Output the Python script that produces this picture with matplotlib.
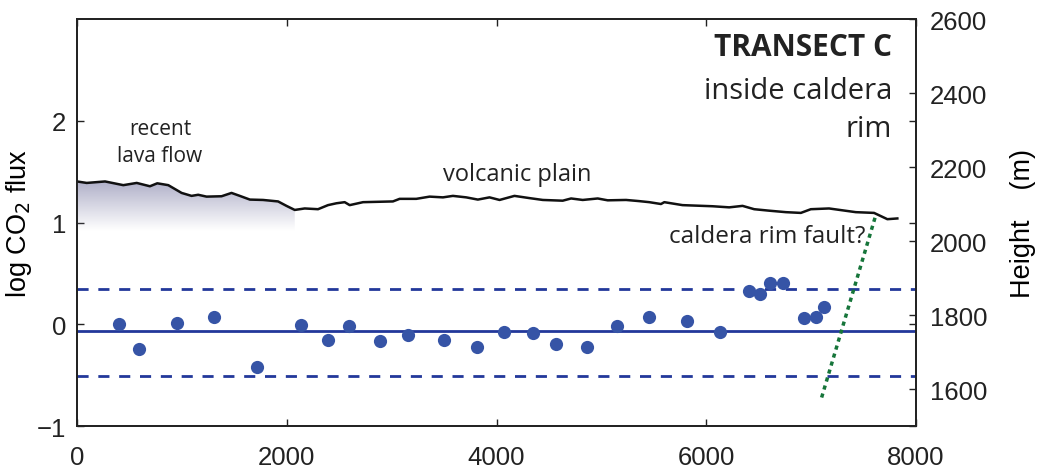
import numpy as np
import matplotlib
matplotlib.use("Agg")
import matplotlib.pyplot as plt
from matplotlib.patches import Polygon

plt.rcParams['font.family'] = ['Liberation Sans', 'DejaVu Sans']

# CO2 flux measurements (distance m, log CO2 flux)
dist = [400, 590, 950, 1305, 1715, 2135, 2390, 2590, 2885, 3160, 3495, 3810,
        4075, 4345, 4570, 4865, 5145, 5450, 5820, 6135, 6410, 6515, 6610,
        6735, 6935, 7050, 7125]
flux = [0.00, -0.24, 0.01, 0.07, -0.42, -0.01, -0.15, -0.02, -0.16, -0.11,
        -0.15, -0.22, -0.08, -0.09, -0.19, -0.22, -0.02, 0.07, 0.03, -0.08,
        0.33, 0.30, 0.41, 0.41, 0.06, 0.07, 0.17]

mean_flux = -0.07
upper_flux = 0.35
lower_flux = -0.51

# elevation profile (distance m, height m)
prof_d = [0, 92, 267, 441, 569, 695, 765, 870, 997, 1092, 1155, 1235, 1378,
          1473, 1552, 1648, 1774, 1917, 1997, 2076, 2171, 2298, 2393, 2473,
          2552, 2600, 2727, 3012, 3076, 3235, 3362, 3489, 3584, 3711, 3822,
          3933, 4029, 4171, 4314, 4441, 4631, 4711, 4822, 4965, 5060, 5235,
          5355, 5457, 5568, 5600, 5774, 6060, 6219, 6346, 6457, 6600, 6759,
          6902, 6997, 7171, 7426, 7600, 7727, 7822]
prof_h = [2161, 2157, 2161, 2151, 2157, 2148, 2156, 2151, 2130, 2122, 2125,
          2120, 2121, 2130, 2122, 2112, 2111, 2107, 2095, 2084, 2088, 2086,
          2097, 2102, 2105, 2097, 2105, 2107, 2114, 2114, 2120, 2118, 2122,
          2118, 2112, 2118, 2111, 2122, 2116, 2111, 2109, 2115, 2111, 2115,
          2110, 2111, 2108, 2105, 2100, 2105, 2097, 2094, 2091, 2095, 2086,
          2082, 2078, 2076, 2086, 2088, 2078, 2076, 2059, 2061]

# fault line ends
fault_d = [7100, 7610]
fault_y = [-0.72, 1.05]

dot_c = '#3654a6'
line_c = '#22389a'

fig = plt.figure(figsize=(10.44, 4.77), dpi=100)
ax = fig.add_axes([0.0738, 0.1048, 0.8036, 0.8532])
ax2 = ax.twinx()

ax.plot(dist, flux, 'o', color=dot_c, ms=9.5, mec='none', zorder=3)
ax.axhline(mean_flux, color=line_c, lw=2)
ax.axhline(upper_flux, color=line_c, lw=2, ls=(0, (4, 3.5)))
ax.axhline(lower_flux, color=line_c, lw=2, ls=(0, (4, 3.5)))
ax.plot(fault_d, fault_y, color='#16753a', lw=2.5, ls=(0, (1.2, 1.2)))

ax.set_xlim(0, 8000)
ax.set_ylim(-1, 3)
ax.set_xticks([0, 2000, 4000, 6000, 8000])
ax.set_yticks([-1, 0, 1, 2])
ax.set_yticklabels(['\u22121', '0', '1', '2'])
ax.tick_params(direction='in', top=True, right=True, length=5, width=1,
               labelsize=18.5, colors='#222222')
ax.tick_params(axis='x', pad=14)
ax.tick_params(axis='y', pad=8)
ax.set_ylabel('log CO$_2$ flux', fontsize=19.5, labelpad=2)

# elevation on the right axis
ax2.plot(prof_d, prof_h, color='#111111', lw=1.8)
ax2.set_ylim(1500, 2600)
ax2.set_yticks([1600, 1800, 2000, 2200, 2400, 2600])
ax2.tick_params(direction='in', length=5, width=1, labelsize=18.5, pad=10,
                colors='#222222')
ax2.set_ylabel('Height    (m)', fontsize=19.5, labelpad=16)

# shaded gradient below the recent lava flow
shade_end = 2076
grad = np.zeros((100, 2, 4))
grad[..., 0] = 0.62
grad[..., 1] = 0.62
grad[..., 2] = 0.74
grad[..., 3] = np.linspace(0.85, 0.0, 100)[:, None]
img = ax2.imshow(grad, extent=[0, shade_end, 2027, 2165], origin='upper',
                 aspect='auto', zorder=1, interpolation='bilinear')
pd = [d for d in prof_d if d <= shade_end]
ph = prof_h[:len(pd)]
poly = Polygon(list(zip(pd, ph)) + [(pd[-1], 2027), (0, 2027)],
               closed=True, transform=ax2.transData)
img.set_clip_path(poly)
ax2.set_xlim(0, 8000)
ax2.set_ylim(1500, 2600)

for a in (ax, ax2):
    for s in a.spines.values():
        s.set_linewidth(1.3)
        s.set_color('#222222')

ann = dict(family=['Open Sans', 'DejaVu Sans'], color='#222222')
ax2.text(7771, 2525, 'TRANSECT C', ha='right', va='center', fontsize=21.5,
         fontweight='bold', **ann)
ax2.text(7771, 2408, 'inside caldera', ha='right', va='center', fontsize=21,
         **ann)
ax2.text(7771, 2305, 'rim', ha='right', va='center', fontsize=21, **ann)
ax2.text(790, 2268, 'recent\nlava flow', ha='center', va='center',
         fontsize=15, linespacing=1.4, **ann)
ax2.text(4200, 2181, 'volcanic plain', ha='center', va='center',
         fontsize=17, **ann)
ax2.text(7514, 2013, 'caldera rim fault?', ha='right', va='center',
         fontsize=17.5, **ann)

fig.savefig('out.png', dpi=100)
